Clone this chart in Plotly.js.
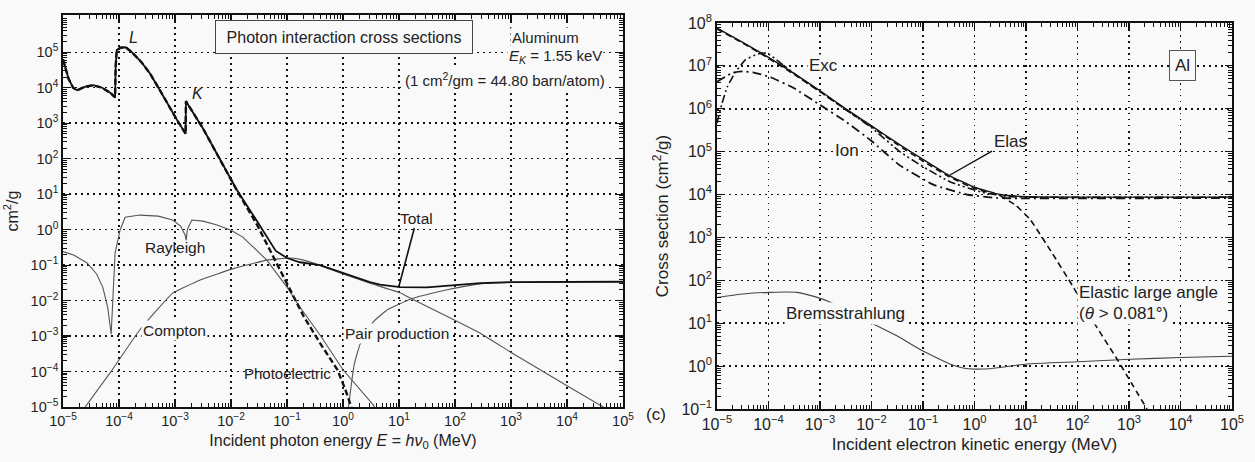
<!DOCTYPE html>
<html>
<head>
<meta charset="utf-8">
<script src="https://cdn.plot.ly/plotly-3.0.1.min.js"></script>
<style>html,body{margin:0;padding:0;background:#f9f9f9;}#chart{width:1255px;height:462px;}</style>
</head>
<body>
<div id="chart"></div>
<script>
// ---------- DATA (log10 of energy in MeV, log10 of cross section in cm^2/g) ----------
// Left panel: photon interaction cross sections, Aluminum
const photoLogE    = [-5, -4.95, -4.9, -4.82, -4.75, -4.6, -4.46, -4.3, -4.15, -4.07, -4.06, -4.04, -3.97, -3.88, -3.77, -3.6, -3.45, -3.27, -3.1, -2.96, -2.81, -2.805, -2.5, -2.2, -1.9, -1.54, -1.2, -0.95, -0.7, -0.41, -0.1, 0.04, 0.12, 0.17];
const photoLogS    = [4.8, 4.55, 4.25, 4.0, 3.93, 4.03, 4.07, 4.0, 3.85, 3.73, 4.6, 5.06, 5.13, 5.14, 5.0, 4.72, 4.41, 3.93, 3.45, 3.08, 2.7, 3.62, 2.85, 2.0, 1.12, 0.15, -0.9, -1.7, -2.45, -3.2, -3.95, -4.5, -4.85, -5.1];

const totalLogE    = [-5, -4.95, -4.9, -4.82, -4.75, -4.6, -4.46, -4.3, -4.15, -4.07, -4.06, -4.04, -3.97, -3.88, -3.77, -3.6, -3.45, -3.27, -3.1, -2.96, -2.81, -2.805, -2.5, -2.2, -1.9, -1.54, -1.36, -1.2, -1.0, -0.77, -0.41, 0, 0.48, 0.66, 1.02, 1.5, 2.0, 2.45, 3.0, 4.0, 5.0];
const totalLogS    = [4.8, 4.55, 4.25, 4.0, 3.93, 4.03, 4.07, 4.0, 3.85, 3.73, 4.6, 5.06, 5.13, 5.14, 5.0, 4.72, 4.41, 3.93, 3.45, 3.08, 2.7, 3.62, 2.85, 2.0, 1.13, 0.25, -0.2, -0.6, -0.8, -0.92, -1.0, -1.23, -1.48, -1.55, -1.62, -1.63, -1.57, -1.51, -1.48, -1.47, -1.47];

const rayleighLogE = [-5, -4.8, -4.57, -4.4, -4.29, -4.2, -4.14, -4.11, -4.07, -3.98, -3.89, -3.63, -3.3, -3.04, -2.9, -2.82, -2.8, -2.78, -2.7, -2.5, -2.25, -2.0, -1.79, -1.36, -1.0, -0.77, -0.41, 0.0, 0.54, 0.6];
const rayleighLogS = [-0.62, -0.72, -0.94, -1.25, -1.62, -2.2, -2.95, -2.0, -0.66, -0.01, 0.35, 0.41, 0.38, 0.27, 0.1, -0.15, -0.3, 0.0, 0.27, 0.24, 0.13, -0.02, -0.21, -0.86, -1.62, -2.18, -2.97, -3.95, -4.94, -5.1];

const comptonLogE  = [-4.65, -4.16, -3.63, -3.04, -2.55, -1.96, -1.36, -0.95, -0.7, -0.41, 0, 0.48, 0.66, 1.02, 1.2, 1.8, 2.45, 3.04, 4.0, 4.7];
const comptonLogS  = [-5.1, -4.04, -2.83, -1.79, -1.42, -1.1, -0.86, -0.8, -0.86, -1.01, -1.25, -1.51, -1.6, -1.78, -1.93, -2.4, -2.92, -3.5, -4.4, -5.05];

const pairLogE     = [0.09, 0.12, 0.2, 0.3, 0.45, 0.57, 0.8, 1.2, 1.68, 2.0, 2.45, 3.0, 4.0, 5.0];
const pairLogS     = [-5.1, -4.72, -3.8, -3.25, -2.8, -2.55, -2.25, -1.96, -1.76, -1.65, -1.53, -1.49, -1.47, -1.47];

// Right panel: electron cross sections, Al
const elasLogE     = [-5, -4.5, -4, -3.5, -3, -2.5, -2, -1.5, -1, -0.5, 0, 0.5, 1, 2, 3, 4, 5];
const elasLogS     = [7.88, 7.55, 7.2, 6.82, 6.42, 6.0, 5.6, 5.2, 4.82, 4.45, 4.17, 4.0, 3.95, 3.94, 3.94, 3.94, 3.94];

const elasLargeLogE = [-5, -4.5, -4, -3.5, -3, -2.5, -2, -1.5, -1, -0.5, 0, 0.5, 0.8, 1.08, 1.5, 1.91, 2.3, 2.77, 3.05, 3.35];
const elasLargeLogS = [7.86, 7.53, 7.18, 6.8, 6.4, 5.98, 5.58, 5.17, 4.78, 4.42, 4.14, 3.97, 3.75, 3.42, 2.65, 1.86, 1.05, 0.16, -0.4, -1.0];

const excLogE      = [-5, -4.9, -4.8, -4.65, -4.45, -4.2, -4.03, -3.8, -3.39, -3.0, -2.5, -2.0, -1.45, -1.0, -0.48, 0.15, 0.7, 5];
const excLogS      = [5.67, 6.14, 6.51, 6.84, 7.14, 7.28, 7.3, 7.1, 6.72, 6.4, 5.98, 5.56, 5.0, 4.65, 4.3, 4.05, 3.95, 3.94];

const ionLogE      = [-5, -4.7, -4.5, -4.3, -3.97, -3.52, -3.0, -2.5, -2.0, -1.45, -0.8, -0.15, 0.44, 5];
const ionLogS      = [6.63, 6.84, 6.87, 6.85, 6.74, 6.49, 6.09, 5.7, 5.25, 4.68, 4.23, 4.0, 3.92, 3.92];

const bremsLogE    = [-5, -4.5, -3.97, -3.45, -3.1, -2.8, -2.4, -2.03, -1.5, -1.0, -0.48, -0.2, 0.0, 0.3, 1.02, 2, 3.02, 4, 5];
const bremsLogS    = [1.6, 1.68, 1.72, 1.72, 1.62, 1.49, 1.25, 1.02, 0.7, 0.35, 0.05, -0.05, -0.07, -0.06, 0.05, 0.1, 0.16, 0.2, 0.23];

// Tick exponents
const xExps      = [-5, -4, -3, -2, -1, 0, 1, 2, 3, 4, 5];
const yLeftExps  = [-5, -4, -3, -2, -1, 0, 1, 2, 3, 4, 5];
const yRightExps = [-1, 0, 1, 2, 3, 4, 5, 6, 7, 8];

// ---------- helpers ----------
const W = 1255, H = 462;
const pow = a => a.map(v => Math.pow(10, v));
const tickText = n => '10<sup>' + (n < 0 ? '\u2212' + (-n) : n) + '</sup>';
function minorVals(lo, hi) {
  const out = [];
  for (let e = lo; e < hi; e++) for (let m = 2; m <= 9; m++) out.push(m * Math.pow(10, e));
  return out;
}
const FONT = 'Liberation Sans, Arial, Helvetica, sans-serif';
const TXT = '#222';
const BG = '#f9f9f9';

function line(xs, ys, xa, ya, color, width, dash) {
  return {x: pow(xs), y: pow(ys), xaxis: xa, yaxis: ya, type: 'scatter', mode: 'lines',
          line: {color: color, width: width, dash: dash || 'solid', shape: 'spline', smoothing: 0.35},
          hoverinfo: 'skip'};
}
function lineL(xs, ys, xa, ya, color, width, dash) {
  const t = line(xs, ys, xa, ya, color, width, dash); t.line.shape = 'linear'; return t;
}

const traces = [
  lineL(rayleighLogE, rayleighLogS, 'x', 'y', '#555', 1.1),
  line(comptonLogE, comptonLogS, 'x', 'y', '#555', 1.1),
  line(pairLogE, pairLogS, 'x', 'y', '#555', 1.1),
  lineL(totalLogE, totalLogS, 'x', 'y', '#111', 1.8),
  lineL(photoLogE, photoLogS, 'x', 'y', '#111', 2.4, '6px,3px'),

  line(bremsLogE, bremsLogS, 'x2', 'y2', '#444', 1.1),
  line(ionLogE, ionLogS, 'x2', 'y2', '#111', 1.8, '9px,4px,2px,4px'),
  line(excLogE, excLogS, 'x2', 'y2', '#111', 1.6, '8px,3px,2px,3px,2px,3px'),
  line(elasLargeLogE, elasLargeLogS, 'x2', 'y2', '#111', 1.6, '6px,4px'),
  line(elasLogE, elasLogS, 'x2', 'y2', '#111', 1.4)
];

function axis(domain, range, exps, minLo, minHi, fsize, tsize, title, standoff) {
  return {
    type: 'log', domain: domain, range: range,
    tickmode: 'array', tickvals: pow(exps), ticktext: exps.map(tickText),
    tickfont: {family: FONT, size: fsize, color: TXT},
    ticks: 'inside', ticklen: 7, tickwidth: 1.2, tickcolor: '#111',
    showline: true, linecolor: '#111', linewidth: 1.8, mirror: 'allticks',
    showgrid: true, gridcolor: '#111', gridwidth: 1.5, griddash: '1.5px,4.5px',
    zeroline: false,
    minor: {ticks: 'inside', ticklen: 4, tickwidth: 1, tickcolor: '#111',
            tickmode: 'array', tickvals: minorVals(minLo, minHi), showgrid: false},
    title: {text: title, font: {family: FONT, size: tsize, color: TXT}, standoff: standoff}
  };
}

const layout = {
  width: W, height: H,
  margin: {l: 0, r: 0, t: 0, b: 0},
  paper_bgcolor: BG, plot_bgcolor: BG,
  showlegend: false,
  xaxis: Object.assign(axis([63 / W, 623 / W], [-5, 5], xExps, -5, 5, 14.5, 16,
          'Incident photon energy <i>E</i> = <i>h\u03BD</i><sub>0</sub> (MeV)', 6), {anchor: 'y'}),
  yaxis: Object.assign(axis([1 - 407 / H, 1 - 15 / H], [-5, 6.05], yLeftExps, -5, 6, 14.5, 16,
          'cm<sup>2</sup>/g', 8), {anchor: 'x'}),
  xaxis2: Object.assign(axis([717 / W, 1232 / W], [-5, 5], xExps, -5, 5, 16, 17,
          'Incident electron kinetic energy (MeV)', 6), {anchor: 'y2'}),
  yaxis2: Object.assign(axis([1 - 409 / H, 1 - 23 / H], [-1, 8], yRightExps, -1, 8, 16, 17,
          'Cross section (cm<sup>2</sup>/g)', 8), {anchor: 'x2'}),
  annotations: [],
};

function note(text, x, y, size, opts) {
  return Object.assign({text: text, xref: 'paper', yref: 'paper', x: x / W, y: 1 - y / H,
    showarrow: false, font: {family: FONT, size: size, color: TXT}, xanchor: 'center', yanchor: 'middle'}, opts || {});
}

layout.annotations.push(
  note('<i>L</i>', 133, 38, 16),
  note('<i>K</i>', 198, 93, 16),
  note('Photon interaction cross sections', 344, 37, 16,
       {bordercolor: '#444', borderwidth: 1, borderpad: 4, bgcolor: BG, width: 248, height: 24}),
  note('Aluminum', 545, 37, 15, {bgcolor: BG}),
  note('<i>E</i><sub><i>K</i></sub> = 1.55 keV', 604, 57, 15, {xanchor: 'right', bgcolor: BG}),
  note('(1 cm<sup>2</sup>/gm = 44.80 barn/atom)', 607, 79, 15, {xanchor: 'right', bgcolor: BG}),
  note('Rayleigh', 175, 247, 15.5),
  note('Compton', 175, 330, 15.5, {bgcolor: BG}),
  note('Photoelectric', 242, 373, 15, {xanchor: 'left'}),
  note('Pair production', 397, 333, 15.5, {bgcolor: BG}),
  Object.assign(note('Total', 399, 286, 15.5), {showarrow: true, ax: 18, ay: -68, arrowhead: 0,
       arrowwidth: 1.6, arrowcolor: '#111', standoff: 0}),

  note('Exc', 823, 65, 17, {bgcolor: BG}),
  note('Ion', 847, 150, 17, {bgcolor: BG}),
  Object.assign(note('Elas', 950, 175, 17), {showarrow: true, ax: 60, ay: -34, arrowhead: 0,
       arrowwidth: 1.4, arrowcolor: '#111', standoff: 0}),
  note('Al', 1182, 66, 17, {bordercolor: '#555', borderwidth: 1, borderpad: 5, bgcolor: BG}),
  note('Bremsstrahlung', 845, 313, 17, {bgcolor: BG}),
  note('Elastic large angle', 1077, 292, 17, {xanchor: 'left', bgcolor: BG}),
  note('(<i>\u03B8</i> > 0.081\u00B0)', 1077, 313, 17, {xanchor: 'left', bgcolor: BG}),
  note('(c)', 656, 414, 17)
);

Plotly.newPlot('chart', traces, layout, {staticPlot: true, displayModeBar: false});
</script>
</body>
</html>
